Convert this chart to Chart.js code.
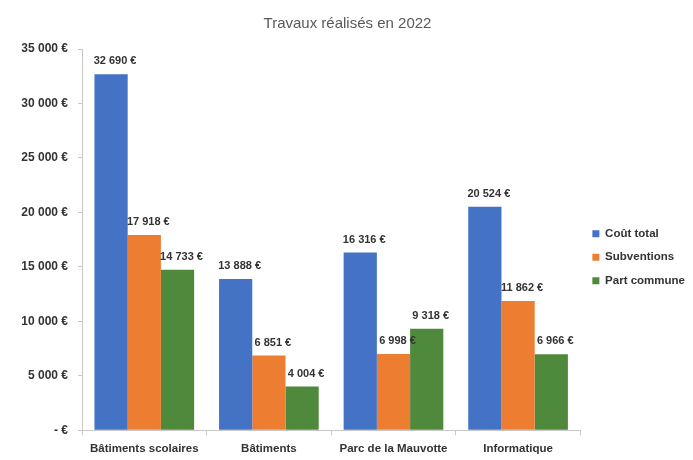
<!DOCTYPE html>
<html>
<head>
<meta charset="utf-8">
<script src="https://cdn.jsdelivr.net/npm/chart.js@4"></script>
<style>
  html, body { margin: 0; padding: 0; background: #fff; }
  #wrap { width: 693px; height: 460px; }
</style>
</head>
<body>
<div id="wrap"><canvas id="chart_travaux2022"></canvas></div>
<script>
var categories = ['Bâtiments scolaires', 'Bâtiments', 'Parc de la Mauvotte', 'Informatique'];
var coutTotal = [32690, 13888, 16316, 20524];
var subventions = [17918, 6851, 6998, 11862];
var partCommune = [14733, 4004, 9318, 6966];
var yTicks = [0, 5000, 10000, 15000, 20000, 25000, 30000, 35000];

function euro(v) {
    if (v === 0) return '- €';
    return String(v).replace(/\B(?=(\d{3})+(?!\d))/g, ' ') + ' €';
}

var FONT = '"Liberation Sans", Arial, sans-serif';

var chart_travaux2022 = new Chart(document.getElementById('chart_travaux2022'), {
    type: 'bar',
    data: {
        labels: categories,
        datasets: [
            { label: 'Coût total', data: coutTotal, backgroundColor: '#4472C4' },
            { label: 'Subventions', data: subventions, backgroundColor: '#ED7D31' },
            { label: 'Part commune', data: partCommune, backgroundColor: '#4F8A3C' }
        ]
    },
    options: {
        animation: false,
        responsive: true,
        maintainAspectRatio: false,
        categoryPercentage: 0.8,
        barPercentage: 1.0,
        layout: { padding: { top: 1, right: -2, bottom: -3, left: 0 } },
        plugins: {
            title: {
                display: true,
                text: 'Travaux réalisés en 2022',
                color: '#595959',
                font: { family: FONT, size: 15, weight: 'normal' },
                padding: { top: 14, bottom: 16 }
            },
            legend: {
                position: 'right',
                title: { display: true, text: ' ', padding: { top: 36, bottom: 0 }, font: { size: 12 } },
                labels: {
                    boxWidth: 7,
                    boxHeight: 7,
                    padding: 12,
                    color: '#333',
                    font: { family: FONT, size: 11.5, weight: 'bold' }
                }
            },
            tooltip: { enabled: false }
        },
        scales: {
            x: {
                grid: { drawOnChartArea: false, color: '#c8c8c8', tickLength: 5, offset: true },
                border: { color: '#c8c8c8' },
                ticks: { color: '#333', padding: 7, font: { family: FONT, size: 11.5, weight: 'bold' } }
            },
            y: {
                min: 0,
                max: 35000,
                afterFit: function(scale) { scale.width = 82; },
                afterBuildTicks: function(scale) {
                    scale.ticks = yTicks.map(function(v) { return { value: v }; });
                },
                grid: { drawOnChartArea: false, color: '#c8c8c8', tickLength: 4 },
                border: { color: '#c8c8c8' },
                ticks: {
                    color: '#333',
                    padding: 10,
                    font: { family: FONT, size: 12, weight: 'bold' },
                    callback: function(value) { return euro(value); }
                }
            }
        }
    },
    plugins: [{
        id: 'valueLabels',
        afterDatasetsDraw: function(chart) {
            var ctx = chart.ctx;
            ctx.save();
            ctx.fillStyle = '#333';
            ctx.font = 'bold 11px ' + FONT;
            ctx.textAlign = 'center';
            ctx.textBaseline = 'middle';
            chart.data.datasets.forEach(function(ds, i) {
                chart.getDatasetMeta(i).data.forEach(function(el, j) {
                    ctx.fillText(euro(ds.data[j]), el.x + 4, el.y - 13);
                });
            });
            ctx.restore();
        }
    }, {
        id: 'whiteBg',
        beforeDraw: function(chart) {
            var ctx = chart.canvas.getContext('2d');
            ctx.save();
            ctx.globalCompositeOperation = 'destination-over';
            ctx.fillStyle = 'white';
            ctx.fillRect(0, 0, chart.canvas.width, chart.canvas.height);
            ctx.restore();
        }
    }]
});
</script>
</body>
</html>
